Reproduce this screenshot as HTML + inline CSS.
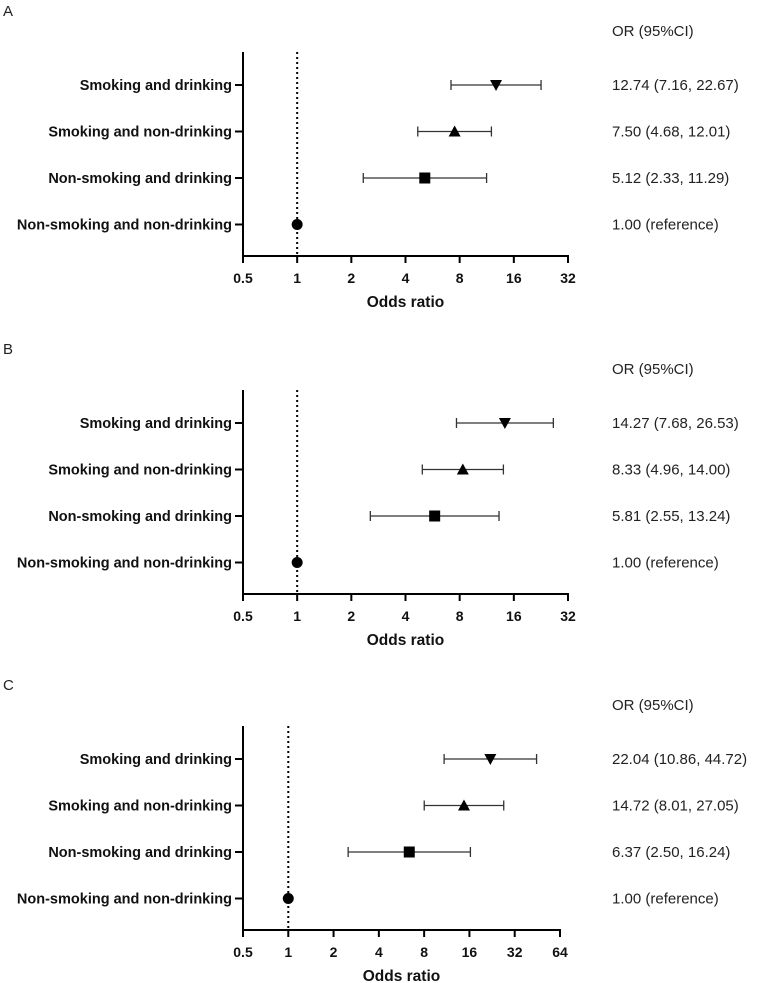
<!DOCTYPE html>
<html><head><meta charset="utf-8"><style>
body{margin:0;background:#fff;}
svg{display:block;font-family:"Liberation Sans",Arial,sans-serif;}
</style></head><body>
<svg id="chart" width="760" height="983" viewBox="0 0 760 983" xmlns="http://www.w3.org/2000/svg"></svg>
<script>
const categories = ["Smoking and drinking","Smoking and non-drinking","Non-smoking and drinking","Non-smoking and non-drinking"];
const orA = [12.74, 7.50, 5.12, 1.00];
const lowA = [7.16, 4.68, 2.33, 1.00];
const highA = [22.67, 12.01, 11.29, 1.00];
const orB = [14.27, 8.33, 5.81, 1.00];
const lowB = [7.68, 4.96, 2.55, 1.00];
const highB = [26.53, 14.00, 13.24, 1.00];
const orC = [22.04, 14.72, 6.37, 1.00];
const lowC = [10.86, 8.01, 2.50, 1.00];
const highC = [44.72, 27.05, 16.24, 1.00];
const labelsA = ["12.74 (7.16, 22.67)","7.50 (4.68, 12.01)","5.12 (2.33, 11.29)","1.00 (reference)"];
const labelsB = ["14.27 (7.68, 26.53)","8.33 (4.96, 14.00)","5.81 (2.55, 13.24)","1.00 (reference)"];
const labelsC = ["22.04 (10.86, 44.72)","14.72 (8.01, 27.05)","6.37 (2.50, 16.24)","1.00 (reference)"];
const ticksAB = [0.5,1,2,4,8,16,32];
const ticksC = [0.5,1,2,4,8,16,32,64];
const markers = ["down","up","square","circle"];

const svg = document.getElementById('chart');
const NS = "http://www.w3.org/2000/svg";
function mk(tag, attrs, parent){
  const e = document.createElementNS(NS, tag);
  for (const k in attrs) e.setAttribute(k, attrs[k]);
  (parent||svg).appendChild(e);
  return e;
}

function panel(letter, top, ors, lows, highs, labels, ticks){
  const g = mk('g', {});
  
  
  const x0 = 243, x1 = ticks.length === 7 ? 568 : 560;
  const lmin = Math.log2(ticks[0]), lmax = Math.log2(ticks[ticks.length-1]);
  const xs = v => x0 + (Math.log2(v) - lmin) / (lmax - lmin) * (x1 - x0);
  const axisTop = top + 52, axisY = top + 256;
  const rowY = i => top + 85 + i * 46.5;

  const lt = mk('text', {x:3, y:top+16, 'font-size':15, fill:'#222'}, g); lt.textContent = letter;
  
  
  const hd = mk('text', {x:612, y:top+36, 'font-size':15, fill:'#222'}, g); hd.textContent = "OR (95%CI)";
  
  

  const ya = mk('line', {x1:x0, y1:axisTop, x2:x0, y2:axisY+1, stroke:'#000','stroke-width':2}, g);
  
  
  const xa = mk('line', {x1:x0-1, y1:axisY, x2:x1+1, y2:axisY, stroke:'#000','stroke-width':2}, g);
  
  
  ticks.forEach(t => {
    const x = xs(t);
    mk('line', {x1:x, y1:axisY, x2:x, y2:axisY+7, stroke:'#000','stroke-width':2}, g);
    const tl = mk('text', {x:x, y:axisY+27, 'font-size':14, 'font-weight':'bold', 'text-anchor':'middle', fill:'#111'}, g);
    tl.textContent = t;
    
    
  });
  const xt = mk('text', {x:(x0+x1)/2, y:axisY+51, 'font-size':15.5, 'font-weight':'bold', 'text-anchor':'middle', fill:'#111'}, g);
  xt.textContent = "Odds ratio";
  
  

  const rl = mk('line', {x1:xs(1), y1:axisTop, x2:xs(1), y2:axisY, stroke:'#000','stroke-width':2,'stroke-dasharray':'2,3'}, g);
  
  

  categories.forEach((c, i) => {
    const y = rowY(i);
    mk('line', {x1:x0-8, y1:y, x2:x0, y2:y, stroke:'#000','stroke-width':2}, g);
    const cl = mk('text', {x:x0-11, y:y+5, 'font-size':14.5, 'font-weight':'bold', 'text-anchor':'end', fill:'#111'}, g);
    cl.textContent = c;
    
    
    if (highs[i] > lows[i]) {
      const ci = mk('path', {d:`M${xs(lows[i])},${y}H${xs(highs[i])}M${xs(lows[i])},${y-5}V${y+5}M${xs(highs[i])},${y-5}V${y+5}`, stroke:'#333','stroke-width':1.3, fill:'none'}, g);
      
      
    }
    const x = xs(ors[i]);
    let m;
    if (markers[i] === 'down') m = mk('path', {d:`M${x-6},${y-5}H${x+6}L${x},${y+6}Z`, fill:'#000'}, g);
    else if (markers[i] === 'up') m = mk('path', {d:`M${x-6},${y+5}H${x+6}L${x},${y-6}Z`, fill:'#000'}, g);
    else if (markers[i] === 'square') m = mk('rect', {x:x-5.5, y:y-5.5, width:11, height:11, fill:'#000'}, g);
    else m = mk('circle', {cx:x, cy:y, r:5.5, fill:'#000'}, g);
    
    
    const vl = mk('text', {x:612, y:y+5, 'font-size':15, fill:'#222'}, g);
    vl.textContent = labels[i];
    
    
  });
}
panel('A', 0, orA, lowA, highA, labelsA, ticksAB);
panel('B', 338, orB, lowB, highB, labelsB, ticksAB);
panel('C', 674, orC, lowC, highC, labelsC, ticksC);
</script>
</body></html>
